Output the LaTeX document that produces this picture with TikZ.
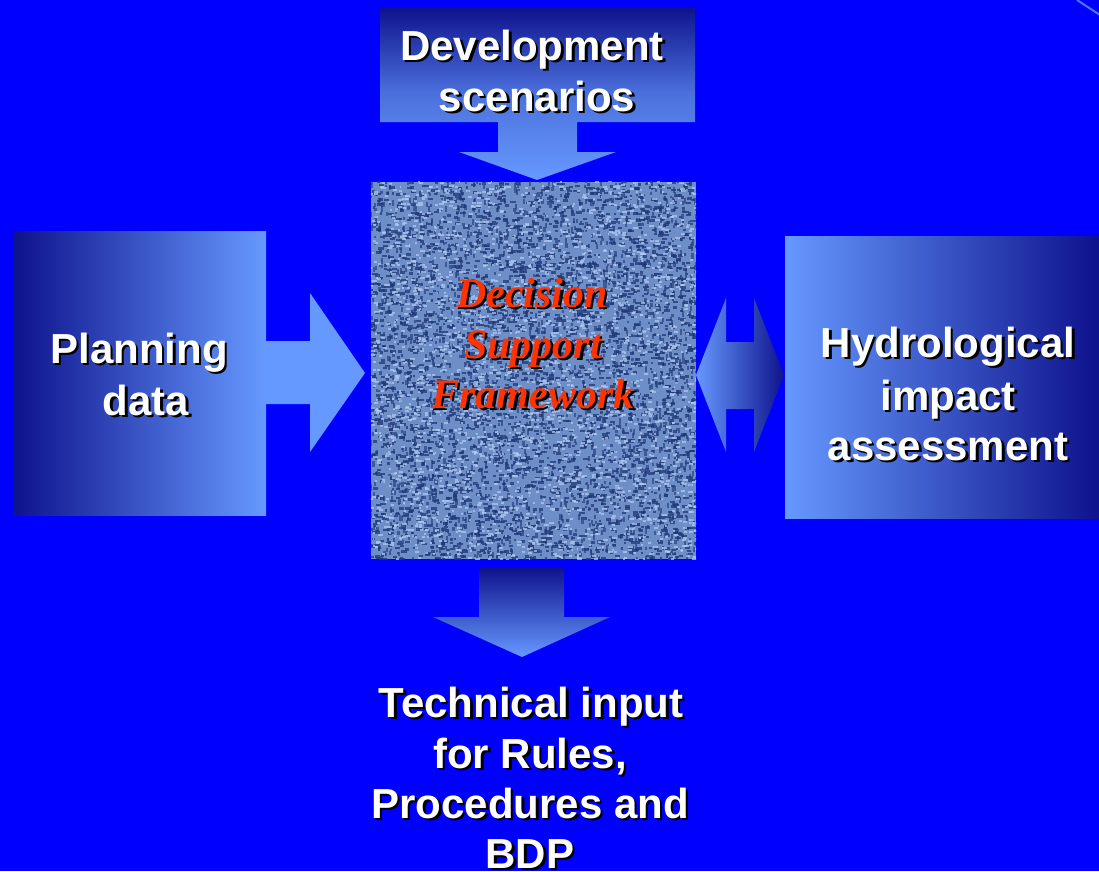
\documentclass[tikz,border=0pt]{standalone}
\usepackage{fontspec}
\setmainfont{Liberation Sans}
\newfontfamily\dsffont{Liberation Serif}
\usetikzlibrary{calc}
\definecolor{bgblue}{RGB}{0,0,255}
\definecolor{gdark}{RGB}{14,18,140}
\definecolor{glight}{RGB}{102,153,255}
\definecolor{texbase}{RGB}{110,142,200}
\definecolor{texdark}{RGB}{30,56,118}
\definecolor{texlight}{RGB}{180,204,244}
\definecolor{dsfred}{RGB}{255,51,0}
\definecolor{cornerline}{RGB}{70,120,255}
\newcommand\shw[1]{\makebox[0pt][l]{\hspace{2.5pt}\raisebox{-2.5pt}{\color{black}#1}}#1}
\tikzset{
  lbl/.style={anchor=base, inner sep=0pt, text=white, font=\bfseries\fontsize{42}{52}\selectfont},
  dsf/.style={anchor=base, inner sep=0pt, text=dsfred, font=\dsffont\bfseries\itshape\fontsize{42}{52}\selectfont},
}
\begin{document}
\begin{tikzpicture}[x=1pt,y=-1pt]
\fill[bgblue] (0,0) rectangle (1099,871);
\useasboundingbox (0,0) rectangle (1099,871);
\draw[cornerline, line width=2pt] (1077,0) -- (1100,15);

% top box with arrow
\shade[top color=gdark, bottom color=glight, middle color={gdark!30!glight}]
  (380,7) -- (695,7) -- (695,122) -- (577,122) -- (577,152) -- (616,152) -- (537,180)
  -- (459,152) -- (498,152) -- (498,122) -- (380,122) -- cycle;

% left box
\node[minimum width=253pt, minimum height=284pt, inner sep=0pt, left color=gdark, right color=glight] (plan) at (139.5,373) {};
\fill[glight] (plan.east |- 0,341) -- (310,341) -- (310,293) -- (365,373) -- (310,452) -- (310,404) -- (plan.east |- 0,404) -- cycle;

% right box
\node[minimum width=314pt, minimum height=282pt, inner sep=0pt, left color=glight, right color=gdark] (hyd) at (942,377) {};
\shade[left color=glight, right color=gdark]
  (696,375) -- (726,298) -- (726,342) -- (754,342) -- (754,298) -- (784,375)
  -- (754,452) -- (754,409) -- (726,409) -- (726,452) -- cycle;

% center textured box
\node[minimum width=325pt, minimum height=377pt, inner sep=0pt, fill=texbase] (dsfbox) at (533.5,370.5) {};
\begin{scope}
\clip (dsfbox.south west) rectangle (dsfbox.north east);
\pgfmathsetseed{1234}
\foreach \i in {1,...,3200} {
  \pgfmathsetmacro\xx{369+rnd*329}
  \pgfmathsetmacro\yy{180+rnd*381}
  \pgfmathsetmacro\ww{2+rnd*4}
  \fill[texdark, opacity=0.75] (\xx,\yy) rectangle ++(\ww,2.4);
}
\foreach \i in {1,...,2200} {
  \pgfmathsetmacro\xx{369+rnd*329}
  \pgfmathsetmacro\yy{180+rnd*381}
  \pgfmathsetmacro\hh{2+rnd*4}
  \fill[texdark, opacity=0.6] (\xx,\yy) rectangle ++(2.2,\hh);
}
\foreach \i in {1,...,2600} {
  \pgfmathsetmacro\xx{369+rnd*329}
  \pgfmathsetmacro\yy{180+rnd*381}
  \pgfmathsetmacro\ww{1.5+rnd*3.5}
  \fill[texlight, opacity=0.7] (\xx,\yy) rectangle ++(\ww,2);
}
\end{scope}

% bottom arrow
\shade[top color=gdark, bottom color=glight]
  (479,567) -- (564,567) -- (564,617) -- (610,617) -- (522,657) -- (433,617) -- (479,617) -- cycle;

% texts
\node[lbl] (dev1) at (532,60) {\shw{Development}};
\node[lbl] (dev2) at (537,111) {\shw{scenarios}};
\node[lbl] (pl1) at (139,363) {\shw{Planning}};
\node[lbl] (pl2) at (146,415) {\shw{data}};
\node[lbl] (hy1) at (948,357) {\shw{Hydrological}};
\node[lbl] (hy2) at (948,410) {\shw{impact}};
\node[lbl] (hy3) at (948,460) {\shw{assessment}};
\node[dsf] (ds1) at (532,307) {\shw{Decision}};
\node[dsf] (ds2) at (533,358) {\shw{Support}};
\node[dsf] (ds3) at (533,408) {\shw{Framework}};
\node[lbl] (te1) at (531,717) {\shw{Technical input}};
\node[lbl] (te2) at (530,768) {\shw{for Rules,}};
\node[lbl] (te3) at (530,818) {\shw{Procedures and}};
\node[lbl] (te4) at (530,868) {\shw{BDP}};
\end{tikzpicture}
\end{document}
